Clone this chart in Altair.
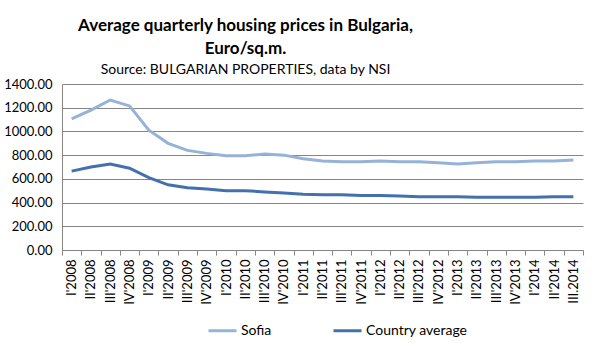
import altair as alt
import pandas as pd

quarters = ["I'2008", "II'2008", "III'2008", "IV'2008",
            "I'2009", "II'2009", "III'2009", "IV'2009",
            "I'2010", "II'2010", "III'2010", "IV'2010",
            "I'2011", "II'2011", "III'2011", "IV'2011",
            "I'2012", "II'2012", "III'2012", "IV'2012",
            "I'2013", "II'2013", "III'2013", "IV'2013",
            "I'2014", "II'2014", "III.2014"]

sofia = [1105, 1180, 1265, 1215, 1010, 900, 840, 815, 795, 795, 810, 800,
         770, 750, 745, 745, 750, 745, 745, 735, 725, 735, 745, 745, 750, 750, 760]

country = [665, 700, 725, 690, 610, 550, 525, 515, 500, 500, 490, 480,
           470, 465, 465, 460, 460, 455, 450, 450, 450, 445, 445, 445, 445, 450, 450]

series_names = ["Sofia", "Country average"]
series_colors = ["#95B3D7", "#4470AD"]

rows = []
for i, q in enumerate(quarters):
    rows.append({"quarter": q, "series": series_names[0], "value": sofia[i], "order": 0})
    rows.append({"quarter": q, "series": series_names[1], "value": country[i], "order": 1})
df = pd.DataFrame(rows)

FONT = "Lato"

chart = alt.Chart(df).mark_line(strokeWidth=3).encode(
    x=alt.X("quarter:N", sort=quarters, title=None,
            scale=alt.Scale(paddingInner=0, paddingOuter=0),
            axis=alt.Axis(labelAngle=-90, labelAlign="right", labelBaseline="middle",
                          labelFontSize=13, labelColor="#000000", labelFont=FONT,
                          labelPadding=4, tickBand="extent", tickSize=5,
                          tickColor="#868686", domainColor="#868686", grid=False,
                          labelOverlap=False)),
    y=alt.Y("value:Q", title=None,
            scale=alt.Scale(domain=[0, 1400], nice=False),
            axis=alt.Axis(values=[0, 200, 400, 600, 800, 1000, 1200, 1400],
                          format=".2f", labelFontSize=13, labelColor="#000000",
                          labelFont=FONT, ticks=False, labelPadding=10,
                          grid=True, gridColor="#868686", domainColor="#868686")),
    color=alt.Color("series:N",
                    scale=alt.Scale(domain=series_names, range=series_colors),
                    legend=alt.Legend(title=None, orient="none", direction="horizontal",
                                      legendX=145, legendY=231,
                                      symbolType="stroke", symbolSize=784,
                                      symbolStrokeWidth=3, labelFontSize=14,
                                      labelFont=FONT, labelColor="#000000",
                                      columnPadding=55, labelOffset=3)),
    order="order:O",
).properties(
    width=521,
    height=166,
    padding={"left": 62, "top": 84, "right": 16, "bottom": 93},
    autosize=alt.AutoSizeParams(type="none"),
    title=alt.TitleParams(
        text=["Average quarterly housing prices in Bulgaria,", "Euro/sq.m."],
        subtitle="Source: BULGARIAN PROPERTIES, data by NSI",
        font=FONT, fontSize=17, fontWeight="bold", color="#000000",
        subtitleFont=FONT, subtitleFontSize=14, subtitleColor="#000000",
        anchor="middle", dx=-77, offset=0, lineHeight=23, subtitlePadding=5,
    ),
).configure_view(stroke=None)

chart.save("out.html", embed_options={"renderer": "svg", "actions": False})
